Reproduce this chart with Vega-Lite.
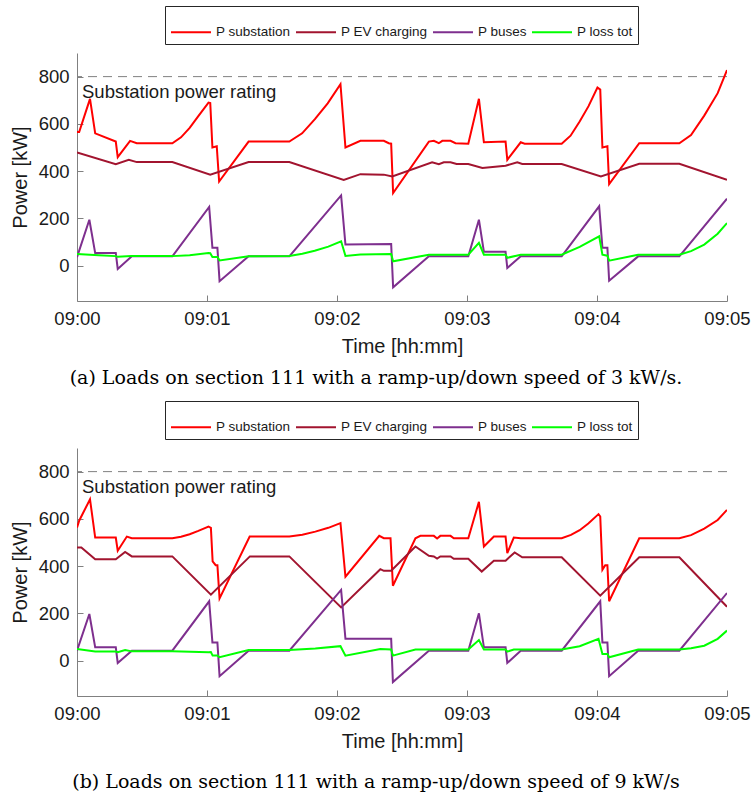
{
"$schema": "https://vega.github.io/schema/vega-lite/v6.json",
"background": "white",
"padding": {"left": 10, "top": 5, "right": 10, "bottom": 5},
"config": {
  "view": {"stroke": null},
  "font": "Liberation Sans",
  "axis": {"grid": false, "domainColor": "#808080", "tickColor": "#808080", "labelColor": "#1a1a1a", "titleColor": "#1a1a1a", "labelFont": "Liberation Sans", "titleFont": "Liberation Sans", "labelFontSize": 18.5, "titleFontSize": 20, "titleFontWeight": "normal", "tickSize": -6, "labelPadding": 14},
  "legend": {"orient": "none", "legendX": 88, "legendY": -47, "direction": "horizontal", "columns": 4, "strokeColor": "#262626", "fillColor": "white", "padding": 5, "labelFontSize": 13.5, "labelFont": "Liberation Sans", "labelColor": "#1a1a1a", "symbolType": "stroke", "symbolSize": 1600, "symbolStrokeWidth": 2, "columnPadding": 1, "labelOffset": 4},
  "title": {"font": "DejaVu Serif", "fontSize": 19, "fontWeight": "normal", "color": "#000000", "orient": "bottom", "anchor": "middle", "offset": 12, "dx": -26}
},
"resolve": {"legend": {"color": "independent"}},
"spacing": 12,
"datasets": {
  "rating": [{"v": 800, "label": "Substation power rating"}],
  "a": [
    {"s":"P substation","t":0,"v":565},{"s":"P substation","t":1,"v":565},{"s":"P substation","t":6,"v":706},{"s":"P substation","t":8.4,"v":560},{"s":"P substation","t":17.9,"v":525},{"s":"P substation","t":18.8,"v":459},{"s":"P substation","t":24.5,"v":528},{"s":"P substation","t":27.6,"v":518},{"s":"P substation","t":44,"v":518},{"s":"P substation","t":48,"v":543},{"s":"P substation","t":52,"v":583},{"s":"P substation","t":56,"v":633},{"s":"P substation","t":60.7,"v":690},{"s":"P substation","t":61.5,"v":688},{"s":"P substation","t":62.5,"v":500},{"s":"P substation","t":64.5,"v":505},{"s":"P substation","t":65.6,"v":356},{"s":"P substation","t":79.2,"v":525},{"s":"P substation","t":98,"v":525},{"s":"P substation","t":103.9,"v":560},{"s":"P substation","t":109.8,"v":620},{"s":"P substation","t":115.7,"v":687},{"s":"P substation","t":121.6,"v":768},{"s":"P substation","t":123.9,"v":500},{"s":"P substation","t":130.8,"v":528},{"s":"P substation","t":141.6,"v":528},{"s":"P substation","t":143.9,"v":518},{"s":"P substation","t":145,"v":516},{"s":"P substation","t":145.9,"v":307},{"s":"P substation","t":162.4,"v":525},{"s":"P substation","t":164.7,"v":528},{"s":"P substation","t":167,"v":518},{"s":"P substation","t":168.6,"v":528},{"s":"P substation","t":172.4,"v":528},{"s":"P substation","t":174.7,"v":518},{"s":"P substation","t":180.6,"v":516},{"s":"P substation","t":185.5,"v":706},{"s":"P substation","t":187.8,"v":522},{"s":"P substation","t":197.8,"v":525},{"s":"P substation","t":198.6,"v":448},{"s":"P substation","t":204.8,"v":522},{"s":"P substation","t":206.6,"v":516},{"s":"P substation","t":223.7,"v":516},{"s":"P substation","t":227.8,"v":550},{"s":"P substation","t":232,"v":610},{"s":"P substation","t":236.1,"v":675},{"s":"P substation","t":240.2,"v":754},{"s":"P substation","t":241.5,"v":745},{"s":"P substation","t":242.5,"v":500},{"s":"P substation","t":244.8,"v":505},{"s":"P substation","t":245.6,"v":345},{"s":"P substation","t":259.5,"v":518},{"s":"P substation","t":278,"v":518},{"s":"P substation","t":283.4,"v":553},{"s":"P substation","t":289.5,"v":635},{"s":"P substation","t":295.7,"v":730},{"s":"P substation","t":300,"v":828},
    {"s":"P EV charging","t":0,"v":479},{"s":"P EV charging","t":17.9,"v":429},{"s":"P EV charging","t":23.9,"v":448},{"s":"P EV charging","t":27.6,"v":438},{"s":"P EV charging","t":44,"v":438},{"s":"P EV charging","t":61.5,"v":385},{"s":"P EV charging","t":79.2,"v":438},{"s":"P EV charging","t":98,"v":438},{"s":"P EV charging","t":123.1,"v":363},{"s":"P EV charging","t":130.8,"v":387},{"s":"P EV charging","t":141.6,"v":385},{"s":"P EV charging","t":145.5,"v":377},{"s":"P EV charging","t":163.9,"v":437},{"s":"P EV charging","t":167,"v":429},{"s":"P EV charging","t":169.3,"v":437},{"s":"P EV charging","t":172.4,"v":437},{"s":"P EV charging","t":175.2,"v":430},{"s":"P EV charging","t":180.6,"v":430},{"s":"P EV charging","t":187.1,"v":413},{"s":"P EV charging","t":197.8,"v":423},{"s":"P EV charging","t":203.2,"v":437},{"s":"P EV charging","t":205.5,"v":430},{"s":"P EV charging","t":223.7,"v":430},{"s":"P EV charging","t":241.8,"v":377},{"s":"P EV charging","t":259.5,"v":431},{"s":"P EV charging","t":278,"v":431},{"s":"P EV charging","t":300,"v":363},
    {"s":"P buses","t":0,"v":35},{"s":"P buses","t":5.7,"v":194},{"s":"P buses","t":8.4,"v":53},{"s":"P buses","t":17.9,"v":53},{"s":"P buses","t":18.8,"v":-14},{"s":"P buses","t":25.3,"v":39},{"s":"P buses","t":44,"v":39},{"s":"P buses","t":61,"v":248},{"s":"P buses","t":62.5,"v":75},{"s":"P buses","t":64.8,"v":75},{"s":"P buses","t":65.8,"v":-66},{"s":"P buses","t":79.2,"v":39},{"s":"P buses","t":98,"v":39},{"s":"P buses","t":121.9,"v":297},{"s":"P buses","t":123.9,"v":89},{"s":"P buses","t":145,"v":91},{"s":"P buses","t":145.9,"v":-92},{"s":"P buses","t":162.4,"v":39},{"s":"P buses","t":180.6,"v":39},{"s":"P buses","t":185.5,"v":194},{"s":"P buses","t":187.8,"v":58},{"s":"P buses","t":197.8,"v":58},{"s":"P buses","t":198.6,"v":-10},{"s":"P buses","t":204.8,"v":39},{"s":"P buses","t":223.7,"v":39},{"s":"P buses","t":241,"v":251},{"s":"P buses","t":242.5,"v":75},{"s":"P buses","t":244.8,"v":75},{"s":"P buses","t":245.6,"v":-64},{"s":"P buses","t":259,"v":39},{"s":"P buses","t":278,"v":39},{"s":"P buses","t":300,"v":283},
    {"s":"P loss tot","t":0,"v":49},{"s":"P loss tot","t":10,"v":44},{"s":"P loss tot","t":17.9,"v":40},{"s":"P loss tot","t":18.8,"v":37},{"s":"P loss tot","t":25,"v":40},{"s":"P loss tot","t":44,"v":40},{"s":"P loss tot","t":52,"v":44},{"s":"P loss tot","t":60.7,"v":53},{"s":"P loss tot","t":61.5,"v":52},{"s":"P loss tot","t":62.5,"v":36},{"s":"P loss tot","t":64.8,"v":36},{"s":"P loss tot","t":65.8,"v":22},{"s":"P loss tot","t":79.2,"v":39},{"s":"P loss tot","t":98,"v":41},{"s":"P loss tot","t":104,"v":50},{"s":"P loss tot","t":109.7,"v":63},{"s":"P loss tot","t":116,"v":80},{"s":"P loss tot","t":121.9,"v":103},{"s":"P loss tot","t":123.9,"v":41},{"s":"P loss tot","t":130.8,"v":47},{"s":"P loss tot","t":145,"v":49},{"s":"P loss tot","t":145.9,"v":18},{"s":"P loss tot","t":162.4,"v":46},{"s":"P loss tot","t":180.6,"v":46},{"s":"P loss tot","t":185.5,"v":96},{"s":"P loss tot","t":187.8,"v":46},{"s":"P loss tot","t":197.8,"v":46},{"s":"P loss tot","t":198.6,"v":33},{"s":"P loss tot","t":204.8,"v":46},{"s":"P loss tot","t":223.7,"v":46},{"s":"P loss tot","t":232,"v":79},{"s":"P loss tot","t":241,"v":124},{"s":"P loss tot","t":242.5,"v":46},{"s":"P loss tot","t":244.8,"v":42},{"s":"P loss tot","t":245.6,"v":21},{"s":"P loss tot","t":259,"v":46},{"s":"P loss tot","t":278,"v":46},{"s":"P loss tot","t":283.4,"v":61},{"s":"P loss tot","t":289.5,"v":89},{"s":"P loss tot","t":295.7,"v":135},{"s":"P loss tot","t":300,"v":180}
  ],
  "b": [
    {"s":"P substation","t":0,"v":563},{"s":"P substation","t":1,"v":592},{"s":"P substation","t":6,"v":683},{"s":"P substation","t":8.4,"v":521},{"s":"P substation","t":17.9,"v":521},{"s":"P substation","t":18.8,"v":465},{"s":"P substation","t":23,"v":525},{"s":"P substation","t":25.3,"v":518},{"s":"P substation","t":44,"v":518},{"s":"P substation","t":48,"v":524},{"s":"P substation","t":52,"v":535},{"s":"P substation","t":56,"v":549},{"s":"P substation","t":60.7,"v":567},{"s":"P substation","t":61.8,"v":562},{"s":"P substation","t":62.6,"v":420},{"s":"P substation","t":64,"v":404},{"s":"P substation","t":64.8,"v":404},{"s":"P substation","t":65.8,"v":263},{"s":"P substation","t":79.7,"v":525},{"s":"P substation","t":98,"v":525},{"s":"P substation","t":104,"v":533},{"s":"P substation","t":110,"v":546},{"s":"P substation","t":116,"v":562},{"s":"P substation","t":121.6,"v":582},{"s":"P substation","t":123.9,"v":355},{"s":"P substation","t":139.5,"v":528},{"s":"P substation","t":141.6,"v":518},{"s":"P substation","t":144.7,"v":518},{"s":"P substation","t":145.8,"v":317},{"s":"P substation","t":156.2,"v":518},{"s":"P substation","t":158.5,"v":528},{"s":"P substation","t":164.7,"v":528},{"s":"P substation","t":166.2,"v":517},{"s":"P substation","t":167.7,"v":528},{"s":"P substation","t":172.4,"v":528},{"s":"P substation","t":173.9,"v":518},{"s":"P substation","t":180.6,"v":518},{"s":"P substation","t":185.5,"v":672},{"s":"P substation","t":187.8,"v":483},{"s":"P substation","t":192.4,"v":525},{"s":"P substation","t":197.8,"v":525},{"s":"P substation","t":198.6,"v":455},{"s":"P substation","t":201.6,"v":521},{"s":"P substation","t":204.8,"v":518},{"s":"P substation","t":223.7,"v":518},{"s":"P substation","t":228,"v":532},{"s":"P substation","t":232,"v":552},{"s":"P substation","t":236,"v":580},{"s":"P substation","t":240.7,"v":620},{"s":"P substation","t":241.5,"v":610},{"s":"P substation","t":242.5,"v":385},{"s":"P substation","t":243.8,"v":404},{"s":"P substation","t":244.8,"v":404},{"s":"P substation","t":245.6,"v":251},{"s":"P substation","t":259.5,"v":518},{"s":"P substation","t":278,"v":518},{"s":"P substation","t":283.4,"v":531},{"s":"P substation","t":289.5,"v":559},{"s":"P substation","t":295.7,"v":595},{"s":"P substation","t":300,"v":638},
    {"s":"P EV charging","t":0,"v":479},{"s":"P EV charging","t":2,"v":479},{"s":"P EV charging","t":8.4,"v":429},{"s":"P EV charging","t":17.9,"v":429},{"s":"P EV charging","t":22.2,"v":460},{"s":"P EV charging","t":25.3,"v":441},{"s":"P EV charging","t":44,"v":441},{"s":"P EV charging","t":61.8,"v":279},{"s":"P EV charging","t":79.8,"v":441},{"s":"P EV charging","t":98,"v":441},{"s":"P EV charging","t":121.9,"v":225},{"s":"P EV charging","t":140,"v":387},{"s":"P EV charging","t":141.6,"v":380},{"s":"P EV charging","t":145,"v":380},{"s":"P EV charging","t":156.2,"v":483},{"s":"P EV charging","t":162.4,"v":444},{"s":"P EV charging","t":164.7,"v":441},{"s":"P EV charging","t":166.2,"v":432},{"s":"P EV charging","t":167.7,"v":441},{"s":"P EV charging","t":172.4,"v":441},{"s":"P EV charging","t":173.9,"v":431},{"s":"P EV charging","t":180.6,"v":431},{"s":"P EV charging","t":186.8,"v":377},{"s":"P EV charging","t":192.4,"v":423},{"s":"P EV charging","t":197.8,"v":423},{"s":"P EV charging","t":202,"v":458},{"s":"P EV charging","t":205.5,"v":437},{"s":"P EV charging","t":223.7,"v":437},{"s":"P EV charging","t":241.5,"v":275},{"s":"P EV charging","t":259.5,"v":437},{"s":"P EV charging","t":278,"v":437},{"s":"P EV charging","t":300,"v":228},
    {"s":"P buses","t":0,"v":42},{"s":"P buses","t":5.7,"v":197},{"s":"P buses","t":8.4,"v":56},{"s":"P buses","t":17.9,"v":56},{"s":"P buses","t":18.8,"v":-10},{"s":"P buses","t":25.3,"v":42},{"s":"P buses","t":44,"v":42},{"s":"P buses","t":61,"v":251},{"s":"P buses","t":62.5,"v":77},{"s":"P buses","t":64.8,"v":77},{"s":"P buses","t":65.8,"v":-66},{"s":"P buses","t":79.2,"v":42},{"s":"P buses","t":98,"v":42},{"s":"P buses","t":121.9,"v":299},{"s":"P buses","t":123.9,"v":92},{"s":"P buses","t":145,"v":92},{"s":"P buses","t":145.8,"v":-91},{"s":"P buses","t":162.4,"v":42},{"s":"P buses","t":180.6,"v":42},{"s":"P buses","t":185.5,"v":200},{"s":"P buses","t":187.8,"v":56},{"s":"P buses","t":197.8,"v":56},{"s":"P buses","t":198.6,"v":-10},{"s":"P buses","t":204.8,"v":42},{"s":"P buses","t":223.7,"v":42},{"s":"P buses","t":241.5,"v":251},{"s":"P buses","t":242.5,"v":77},{"s":"P buses","t":244.8,"v":77},{"s":"P buses","t":245.6,"v":-66},{"s":"P buses","t":259,"v":42},{"s":"P buses","t":278,"v":42},{"s":"P buses","t":300,"v":286},
    {"s":"P loss tot","t":0,"v":49},{"s":"P loss tot","t":8.4,"v":38},{"s":"P loss tot","t":17.9,"v":38},{"s":"P loss tot","t":18.8,"v":35},{"s":"P loss tot","t":22.2,"v":45},{"s":"P loss tot","t":25.3,"v":39},{"s":"P loss tot","t":44,"v":39},{"s":"P loss tot","t":60.7,"v":35},{"s":"P loss tot","t":61.8,"v":36},{"s":"P loss tot","t":62.6,"v":21},{"s":"P loss tot","t":64.8,"v":21},{"s":"P loss tot","t":65.8,"v":14},{"s":"P loss tot","t":79.2,"v":45},{"s":"P loss tot","t":98,"v":45},{"s":"P loss tot","t":110,"v":51},{"s":"P loss tot","t":121.6,"v":61},{"s":"P loss tot","t":123.9,"v":21},{"s":"P loss tot","t":140,"v":49},{"s":"P loss tot","t":145,"v":47},{"s":"P loss tot","t":145.8,"v":21},{"s":"P loss tot","t":156.2,"v":47},{"s":"P loss tot","t":180.6,"v":47},{"s":"P loss tot","t":185.5,"v":87},{"s":"P loss tot","t":187.8,"v":47},{"s":"P loss tot","t":197.8,"v":47},{"s":"P loss tot","t":198.6,"v":38},{"s":"P loss tot","t":201.6,"v":47},{"s":"P loss tot","t":223.7,"v":47},{"s":"P loss tot","t":232,"v":61},{"s":"P loss tot","t":240.7,"v":92},{"s":"P loss tot","t":242.5,"v":28},{"s":"P loss tot","t":244.8,"v":28},{"s":"P loss tot","t":245.6,"v":14},{"s":"P loss tot","t":259,"v":47},{"s":"P loss tot","t":278,"v":47},{"s":"P loss tot","t":283.4,"v":52},{"s":"P loss tot","t":289.5,"v":63},{"s":"P loss tot","t":295.7,"v":92},{"s":"P loss tot","t":300,"v":127}
  ]
},
"vconcat": [
  {
    "width": 650, "height": 248,
    "title": {"text": "(a) Loads on section 111 with a ramp-up/down speed of 3 kW/s."},
    "encoding": {
      "y": {"field": "v", "type": "quantitative", "scale": {"domain": [-150, 900], "nice": false, "zero": false}, "axis": {"values": [0, 200, 400, 600, 800], "title": "Power [kW]", "titlePadding": 8}}
    },
    "layer": [
      {"data": {"name": "rating"}, "mark": {"type": "rule", "color": "#808080", "strokeDash": [9, 6], "strokeWidth": 1}},
      {"data": {"name": "rating"}, "mark": {"type": "text", "align": "left", "baseline": "alphabetic", "dx": 5, "dy": 21, "fontSize": 18.5, "font": "Liberation Sans", "color": "#1a1a1a"},
       "encoding": {"x": {"datum": 0, "type": "quantitative", "scale": {"domain": [0, 300], "nice": false}, "axis": {"values": [0, 60, 120, 180, 240, 300], "labelExpr": "'09:0' + (datum.value / 60)", "title": "Time [hh:mm]", "titlePadding": 9, "labelFlush": false}}, "text": {"field": "label"}}},
      {"data": {"name": "a"}, "mark": {"type": "line", "strokeWidth": 2, "clip": true},
       "encoding": {
         "x": {"field": "t", "type": "quantitative", "scale": {"domain": [0, 300], "nice": false}, "axis": {"values": [0, 60, 120, 180, 240, 300], "labelExpr": "'09:0' + (datum.value / 60)", "title": "Time [hh:mm]", "titlePadding": 9, "labelFlush": false}},
         "color": {"field": "s", "type": "nominal", "scale": {"domain": ["P substation", "P EV charging", "P buses", "P loss tot"], "range": ["#ff0000", "#a2142f", "#7e2f8e", "#00ff00"]}, "legend": {"title": null}}
       }}
    ]
  },
  {
    "width": 650, "height": 248,
    "title": {"text": "(b) Loads on section 111 with a ramp-up/down speed of 9 kW/s", "offset": 21},
    "encoding": {
      "y": {"field": "v", "type": "quantitative", "scale": {"domain": [-150, 900], "nice": false, "zero": false}, "axis": {"values": [0, 200, 400, 600, 800], "title": "Power [kW]", "titlePadding": 8}}
    },
    "layer": [
      {"data": {"name": "rating"}, "mark": {"type": "rule", "color": "#808080", "strokeDash": [9, 6], "strokeWidth": 1}},
      {"data": {"name": "rating"}, "mark": {"type": "text", "align": "left", "baseline": "alphabetic", "dx": 5, "dy": 21, "fontSize": 18.5, "font": "Liberation Sans", "color": "#1a1a1a"},
       "encoding": {"x": {"datum": 0, "type": "quantitative", "scale": {"domain": [0, 300], "nice": false}, "axis": {"values": [0, 60, 120, 180, 240, 300], "labelExpr": "'09:0' + (datum.value / 60)", "title": "Time [hh:mm]", "titlePadding": 9, "labelFlush": false}}, "text": {"field": "label"}}},
      {"data": {"name": "b"}, "mark": {"type": "line", "strokeWidth": 2, "clip": true},
       "encoding": {
         "x": {"field": "t", "type": "quantitative", "scale": {"domain": [0, 300], "nice": false}, "axis": {"values": [0, 60, 120, 180, 240, 300], "labelExpr": "'09:0' + (datum.value / 60)", "title": "Time [hh:mm]", "titlePadding": 9, "labelFlush": false}},
         "color": {"field": "s", "type": "nominal", "scale": {"domain": ["P substation", "P EV charging", "P buses", "P loss tot"], "range": ["#ff0000", "#a2142f", "#7e2f8e", "#00ff00"]}, "legend": {"title": null}}
       }}
    ]
  }
]
}
